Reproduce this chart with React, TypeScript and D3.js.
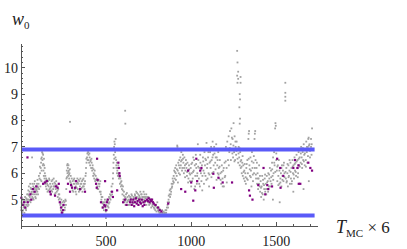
import React from 'react';
import * as d3 from 'd3';

// gray samples: [T_MC, w0]
const grayPoints: [number, number][] = [
  [2,4.7],[4,4.9],[6,4.5],[8,4.8],[10,5.0],[12,4.6],[14,4.8],[16,4.7],[18,4.9],[20,4.5],[22,4.8],[24,5.1],[26,4.7],[28,4.9],[30,4.6],[32,5.0],[34,4.8],[36,5.2],[38,4.9],[40,5.0],
  [42,5.2],[44,4.8],[46,5.5],[48,5.0],[50,5.3],[52,5.1],[54,5.6],[56,4.9],[58,5.2],[60,5.4],[62,5.0],[64,5.3],[65,6.6],[66,5.1],[68,5.4],[70,5.2],[72,5.5],[74,5.0],[76,5.3],[78,5.6],[80,5.2],[82,5.4],[84,5.1],[86,5.3],[88,5.5],[90,5.2],[92,5.4],[94,5.6],[96,5.3],[98,5.5],[100,5.2],
  [103,5.6],[106,5.4],[109,5.8],[112,6.0],[114,5.5],[116,6.2],[118,6.4],[120,5.7],[122,6.6],[124,6.8],[126,6.5],[128,6.3],[130,6.7],[132,6.1],[134,5.9],[136,6.3],[138,5.8],[140,6.0],[142,5.6],[144,5.7],[146,5.5],[148,5.8],[150,5.4],
  [153,5.6],[156,5.3],[159,5.7],[162,5.5],[165,5.8],[168,5.4],[171,5.6],[174,5.2],[177,5.5],[180,5.7],[183,5.3],[186,5.6],[189,5.4],[192,5.8],[195,5.5],[198,5.2],[201,5.6],[204,5.4],[207,5.7],[210,5.3],[213,5.5],[216,5.1],[219,5.4],[222,5.0],[225,5.2],[228,4.9],
  [231,4.8],[234,4.6],[237,5.0],[240,4.7],[243,4.9],[246,4.5],[249,4.8],[252,4.6],[255,4.9],[258,4.7],[261,5.0],[264,4.8],
  [267,5.8],[269,6.1],[271,6.3],[273,6.0],[275,6.2],[277,5.9],[279,6.3],[281,6.1],[283,5.8],[285,6.0],[288,7.95],[289,5.7],[292,5.9],[295,5.6],[298,5.8],
  [301,5.5],[304,5.7],[307,5.3],[310,5.6],[313,5.8],[316,5.4],[319,5.7],[322,5.5],[325,5.2],[328,5.6],[331,5.8],[334,5.4],[337,5.6],[340,5.3],[343,5.7],[346,5.5],[349,5.8],[352,5.4],[355,5.6],[358,5.7],[361,5.3],[364,5.5],[367,5.8],[370,5.6],[373,5.4],[376,5.7],[379,5.9],
  [382,6.2],[385,6.4],[388,6.6],[391,6.5],[394,6.8],[397,6.7],[400,6.4],[403,6.6],[406,6.3],[409,6.5],[412,6.2],[415,6.4],[418,6.1],[421,6.3],[424,5.9],[427,6.0],[430,5.8],[433,6.1],[436,5.7],[439,5.9],
  [442,5.6],[445,5.8],[448,5.5],[451,5.7],[454,5.4],[457,5.6],[460,5.5],[463,5.3],[466,5.7],[469,5.2],[472,5.0],
  [475,4.9],[478,5.1],[481,4.7],[484,4.9],[487,4.6],[490,4.8],[493,5.0],[496,4.7],[499,4.3],[502,4.8],[505,4.6],[508,5.0],[511,4.9],[514,4.7],[517,5.1],[520,4.9],[523,5.2],
  [526,5.0],[529,5.3],[532,5.5],[535,5.2],[538,5.6],
  [541,6.0],[543,6.4],[545,6.7],[547,7.0],[549,7.2],[551,7.1],[553,6.8],[555,6.6],[557,6.9],[559,6.5],[561,6.2],[563,6.4],
  [566,6.1],[569,5.9],[572,6.3],[575,5.8],[578,6.0],[581,5.6],[584,5.8],[587,5.5],[590,5.7],[593,5.4],
  [596,5.2],[599,5.5],[602,5.0],[605,5.3],[608,4.9],[611,5.1],[612,8.37],[613,7.88],[614,4.8],[617,5.2],[620,5.0],[623,4.9],[626,5.1],[629,4.8],
  [633,5.0],[637,4.8],[641,5.1],[645,4.9],[649,5.2],[653,4.8],[657,5.0],[661,5.1],[665,4.9],[669,5.2],[673,5.0],[677,5.3],[681,5.1],[685,4.9],[689,5.2],[693,5.0],[697,5.1],[701,5.3],[705,5.0],[709,5.2],[713,4.9],[717,5.1],[720,5.3],[721,5.0],[725,5.2],[729,4.9],[733,5.1],[737,4.8],[741,5.0],[745,4.9],[749,5.1],[753,4.8],[757,5.0],[761,4.9],[765,4.7],[769,5.0],[773,4.8],[777,4.9],[781,4.7],[785,4.8],[789,4.6],[793,4.8],[797,4.7],[801,4.9],[805,4.6],[809,4.7],[813,4.5],[817,4.6],
  [821,4.5],[825,4.4],[829,4.6],[833,4.5],[837,4.4],[841,4.5],[845,4.4],[849,4.6],[853,4.5],[857,4.7],
  [861,4.8],[864,4.7],[867,5.0],[870,4.9],[873,5.2],[876,5.1],[879,5.4],[882,5.3],[885,5.6],[888,5.5],[891,5.8],[894,5.7],
  [897,5.9],[900,6.1],[903,5.8],[906,6.2],[909,6.0],[912,6.3],[915,5.9],[918,7.05],[919,7.0],[921,6.1],[924,6.4],[927,6.0],[930,6.5],[933,6.2],
  [936,6.6],[939,6.3],[942,6.8],[945,6.5],[948,6.2],[951,6.7],[954,6.4],[957,6.0],[960,6.6],[963,6.3],[966,6.1],[969,6.5],[972,6.2],[975,5.9],[978,6.4],[981,6.1],[984,5.8],[987,6.3],[990,6.0],[993,5.7],
  [997,6.2],[1000,5.5],[1003,6.0],[1006,6.4],[1009,5.8],[1012,6.6],[1015,6.1],[1018,5.4],[1021,6.3],[1024,5.9],[1027,6.7],[1030,6.2],[1033,5.6],[1036,6.0],[1039,7.1],[1042,6.5],[1045,5.8],[1048,6.2],[1051,5.5],[1054,6.4],[1057,6.0],[1060,5.7],[1063,6.3],[1066,5.9],[1069,6.6],[1072,6.1],[1075,5.6],[1078,6.8],[1081,6.3],[1084,5.9],[1087,6.5],[1090,7.15],[1093,6.2],[1096,5.8],[1099,6.6],[1102,6.0],[1105,5.5],[1108,6.4],
  [1111,6.8],[1114,6.2],[1117,7.0],[1120,6.5],[1123,6.0],[1126,7.2],[1129,6.7],[1132,6.3],[1135,7.0],[1138,6.9],[1141,6.4],[1144,6.6],[1147,7.1],[1150,6.6],[1153,6.3],[1156,6.0],[1159,6.8],[1162,6.2],[1165,5.8],[1168,6.5],
  [1172,6.0],[1176,5.6],[1180,6.3],[1184,5.8],[1188,6.1],[1192,5.5],[1196,6.4],[1200,5.9],[1204,7.0],[1208,6.2],[1212,7.2],[1216,6.5],[1220,7.4],[1224,6.8],[1228,7.6],[1232,7.1],[1236,7.7],
  [1240,6.9],[1243,7.3],[1246,6.6],[1249,7.9],[1252,6.8],[1255,7.4],[1258,6.5],[1261,7.0],[1264,6.7],[1267,7.2],
  [1270,10.64],[1272,10.2],[1276,9.85],[1270,9.7],[1290,9.65],[1276,9.58],[1272,9.43],[1290,9.43],[1285,9.0],[1287,8.8],[1283,8.5],[1287,8.07],[1285,7.88],
  [1273,6.9],[1276,6.4],[1279,7.0],[1282,6.6],[1285,6.3],[1288,6.8],[1291,6.2],[1294,6.5],[1297,6.0],[1300,6.4],[1303,5.9],[1306,6.3],[1309,5.8],[1312,6.1],[1315,5.7],[1318,6.0],
  [1321,5.6],[1324,6.2],[1327,5.8],[1330,6.5],[1333,6.0],[1336,7.3],[1338,7.5],[1340,7.6],[1342,6.3],[1345,5.9],[1348,6.6],[1351,6.1],[1354,5.5],[1357,6.8],[1360,6.2],[1363,5.7],[1366,6.4],[1369,6.0],[1372,7.3],[1374,7.5],[1376,7.6],[1378,6.5],[1381,5.8],[1384,6.2],[1387,5.6],[1390,6.0],[1393,5.4],[1396,5.8],[1399,6.3],[1402,5.5],
  [1405,5.3],[1408,5.7],[1411,5.1],[1414,5.5],[1417,5.9],[1420,5.2],[1423,5.6],[1426,5.0],[1429,5.4],[1432,5.8],[1435,5.3],[1438,5.6],[1441,5.2],[1444,5.9],[1447,5.4],[1450,5.7],[1453,6.0],[1456,5.5],[1459,5.8],[1462,6.2],
  [1466,5.7],[1469,6.1],[1472,5.6],[1475,6.4],[1478,5.9],[1480,5.0],[1481,6.6],[1484,6.0],[1487,6.8],[1490,6.3],[1493,7.7],[1495,7.9],[1497,7.8],[1500,6.5],[1503,6.1],[1506,5.7],[1509,6.3],[1512,5.9],[1515,6.5],[1518,5.6],[1520,4.9],[1521,6.2],[1524,5.8],[1527,6.0],[1530,5.5],[1533,6.3],[1536,5.9],[1539,6.1],[1542,5.7],[1545,6.4],[1548,6.0],
  [1553,9.43],[1553,9.05],[1553,8.9],[1553,8.75],
  [1556,5.8],[1559,6.2],[1562,5.7],[1565,6.0],[1568,5.5],[1571,6.3],[1574,5.9],[1577,6.1],[1580,5.6],[1583,6.4],[1586,5.8],[1589,6.2],[1592,5.7],[1595,6.5],[1598,6.0],[1600,5.3],[1601,6.3],[1604,5.8],[1607,6.6],[1610,6.1],[1613,6.4],[1616,5.9],[1619,6.7],[1622,6.2],[1625,6.5],[1628,6.0],[1631,6.8],[1634,6.3],[1637,6.6],
  [1640,6.9],[1643,6.4],[1646,7.0],[1649,6.6],[1652,6.2],[1655,6.8],[1658,6.5],[1660,5.4],[1661,7.1],[1664,6.7],[1667,6.3],[1670,6.9],[1673,6.5],[1676,7.2],[1679,6.8],[1682,6.4],[1685,7.0],[1688,7.3],[1690,7.35],[1691,5.7],[1692,6.9],[1695,7.1],[1698,6.6],[1701,6.9],[1704,7.0],[1707,6.7],[1710,7.7],
];

// more gray samples read between the ones above
const grayExtra: [number, number][] = [
  [1,4.6],[5,4.85],[9,4.55],[13,5.0],[17,4.75],[21,4.95],[27,4.65],[31,5.05],[35,5.0],[39,4.75],[43,5.35],[47,5.15],[51,4.95],[57,5.45],[61,5.25],[67,5.6],[71,5.05],[77,5.45],[81,5.7],[87,5.05],[91,5.35],[97,5.75],
  [101,5.45],[105,5.9],[111,6.25],[115,5.75],[119,6.55],[121,6.1],[127,6.75],[131,6.35],[135,6.55],[139,6.2],[143,5.9],[147,5.65],[151,5.75],[157,5.55],
  [161,5.35],[167,5.75],[173,5.45],[179,5.35],[185,5.75],[191,5.5],[197,5.65],[203,5.25],[209,5.55],[215,5.35],[221,5.2],[227,5.05],
  [233,4.85],[239,4.55],[245,4.75],[251,4.95],[257,4.6],[263,4.95],[266,5.4],[270,5.85],[274,6.35],[278,6.05],[282,5.95],[287,6.15],[291,5.65],[297,5.5],
  [303,5.35],[309,5.75],[315,5.6],[321,5.3],[327,5.45],[333,5.65],[339,5.75],[345,5.35],[351,5.6],[357,5.45],[363,5.75],[369,5.5],[375,5.6],[381,6.0],
  [384,6.55],[390,6.75],[396,6.5],[402,6.75],[408,6.45],[414,6.55],[420,6.2],[426,6.15],[432,5.95],[438,5.75],
  [444,5.75],[450,5.4],[456,5.75],[462,5.6],[468,5.3],[474,5.1],[480,4.85],[486,4.75],[492,4.9],[498,4.55],[504,4.95],[510,4.75],[516,4.85],[522,5.05],[528,5.15],
  [540,5.8],[544,6.2],[548,6.55],[552,6.9],[556,7.3],[560,6.3],[564,6.0],[568,6.2],[574,5.95],[580,5.85],[586,5.65],[592,5.55],[598,5.35],
  [604,5.15],[610,4.95],[616,5.05],[622,5.25],[628,4.95],[634,5.15],[640,4.95],[646,5.05],[652,5.15],[658,4.85],[664,5.05],[670,5.15],[676,5.1],[682,5.25],[688,5.05],[694,5.15],[700,5.05],[706,5.2],[712,5.1],[718,5.0],[724,5.1],[730,5.05],[736,5.2],[742,5.1],[748,4.95],[754,5.05],[760,4.85],[766,4.95],[772,4.75],[778,4.85],[784,4.65],[790,4.75],[796,4.55],[802,4.7],[808,4.55],[814,4.65],
  [830,4.45],[838,4.55],[846,4.5],[854,4.6],[862,4.9],[868,5.15],[874,5.35],[880,5.2],[886,5.45],[892,5.6],[898,5.65],
  [904,6.05],[910,5.75],[916,6.15],[922,5.65],[928,6.3],[934,5.95],[940,6.45],[946,6.1],[952,6.55],[958,6.2],[964,5.85],[970,6.35],[976,6.05],[982,5.65],[988,6.15],[994,5.95],
  [1001,6.35],[1005,5.7],[1011,6.05],[1017,6.5],[1023,5.5],[1029,6.35],[1035,5.9],[1041,6.25],[1047,5.6],[1053,6.7],[1059,6.15],[1065,5.35],[1071,6.45],[1077,6.0],[1083,6.55],[1089,5.75],[1095,6.35],[1101,6.8],[1107,5.95],
  [1113,6.45],[1119,5.85],[1125,6.6],[1131,6.05],[1137,6.75],[1143,6.15],[1149,5.75],[1155,6.5],[1161,5.95],[1167,6.25],[1173,5.75],[1179,6.05],[1185,5.5],[1191,6.2],[1197,5.85],[1203,6.45],[1209,5.65],[1215,6.9],[1221,6.3],[1227,6.95],[1233,6.5],[1239,7.35],
  [1242,6.75],[1248,7.05],[1254,6.45],[1260,7.2],[1266,6.85],[1272,6.55],[1278,6.75],[1284,6.95],[1290,6.45],[1296,6.25],[1302,6.65],[1308,6.05],[1314,6.35],[1320,5.85],
  [1326,6.35],[1332,5.75],[1338,6.55],[1344,6.15],[1350,5.85],[1356,6.45],[1362,5.95],[1368,6.65],[1374,6.2],[1380,5.95],[1386,6.4],[1392,5.8],[1398,5.6],[1404,5.9],
  [1410,5.45],[1416,5.25],[1422,5.75],[1428,5.55],[1434,5.95],[1440,5.4],[1446,5.65],[1452,5.3],[1458,5.95],[1464,5.5],
  [1470,5.85],[1476,6.15],[1482,5.75],[1488,6.4],[1494,6.05],[1500,6.75],[1506,6.25],[1512,5.55],[1518,6.1],[1524,5.65],[1530,6.2],[1536,5.75],[1542,6.3],[1548,5.85],
  [1554,6.05],[1560,5.65],[1566,6.35],[1572,5.85],[1578,6.5],[1584,6.05],[1590,5.6],[1596,6.25],[1602,5.95],[1608,6.35],[1614,6.05],[1620,6.45],[1626,5.85],[1632,6.55],[1638,6.25],[1644,6.75],[1650,6.35],[1656,6.95],[1662,6.45],[1668,6.75],[1674,6.25],[1680,7.0],[1686,6.65],[1692,7.05],[1698,6.85],[1704,7.3],[1708,7.1],
];

// purple samples: [T_MC, w0]
const purplePoints: [number, number][] = [
  [2,5.07],[10,4.8],[18,4.9],[25,4.7],[38,6.6],[40,4.9],[55,5.2],[60,5.0],[70,5.4],[80,5.3],[90,5.5],
  [130,5.6],[140,5.65],[152,5.7],[170,5.3],[175,5.2],[200,5.15],[205,5.5],[215,5.45],[222,5.6],[228,4.9],
  [235,4.7],[240,4.5],[247,4.6],[250,4.8],[276,5.6],[288,5.3],[294,5.55],[300,5.45],[318,5.45],[324,5.7],[347,5.4],[376,5.3],
  [441,5.6],[445,5.45],[447,6.55],[450,5.75],[470,4.9],[480,4.7],[490,4.8],[494,5.7],[495,4.75],[500,4.6],[505,4.9],[510,5.0],
  [535,5.3],[540,5.1],[565,5.35],[572,6.4],[575,6.2],[578,6.0],[580,5.9],[600,4.9],[610,5.0],[620,4.8],
  [640,4.9],[645,5.0],[650,4.8],[655,4.9],[660,5.0],[665,4.75],[670,4.9],[675,5.05],[680,4.85],[685,4.95],[690,4.8],[695,5.0],[700,4.9],[705,4.85],[710,5.0],[715,4.75],[720,4.9],[725,4.8],[730,4.95],[740,5.0],[745,4.95],[750,5.05],[755,4.9],[760,5.0],[765,4.95],[770,5.0],[775,4.9],[780,4.85],[790,4.8],[805,4.7],[815,4.6],[825,4.55],
  [865,4.85],[941,5.4],[965,5.3],[982,6.1],[1000,5.65],[1012,4.96],[1024,5.35],[1030,6.55],[1035,5.7],[1053,6.1],[1060,6.2],
  [1130,5.98],[1133,5.45],[1160,5.83],[1185,5.65],[1240,5.65],[1340,5.35],[1345,5.15],[1360,5.0],[1394,5.55],
  [1425,6.2],[1435,5.2],[1447,5.55],[1453,5.4],[1475,5.5],[1505,6.55],[1523,6.2],[1525,5.45],[1541,5.9],
  [1600,6.2],[1610,6.5],[1625,6.2],[1630,6.3],[1632,5.6],[1641,5.6],[1688,6.4],[1700,6.2],[1710,6.1],
];

const bandLevels = [4.4, 6.9];
const xMajor = [500, 1000, 1500];
const yMajor = [5, 6, 7, 8, 9, 10];

const W = 407;
const H = 249;
const serif = "'Liberation Serif', 'Times New Roman', Times, Tinos, 'Noto Serif', 'DejaVu Serif', FreeSerif, serif";

export default function App() {
  const x = d3.scaleLinear().domain([0, 1745]).range([21, 318]);
  const y = d3.scaleLinear().domain([4, 10.9]).range([226, 44]);

  const xMinor = d3.range(100, 1800, 100).filter(v => !xMajor.includes(v));
  const yMinor = d3.range(4.2, 10.85, 0.2).filter(v => Math.abs(v - Math.round(v)) > 0.01);

  const axisColor = '#555';
  const allGray = grayPoints.concat(grayExtra);

  return (
    <svg width={W} height={H} style={{ position: 'absolute', left: 0, top: 0, fontFamily: serif }}>
      <rect width={W} height={H} fill="#fff" />

      {/* points */}
      <g fill="#a2a2a2">
        {allGray.map(([t, w], i) => (
          <rect key={i} x={x(t) - 0.9} y={y(w) - 0.9} width={1.8} height={1.8} />
        ))}
      </g>
      <g fill="#800080">
        {purplePoints.map(([t, w], i) => (
          <rect key={i} x={x(t) - 1.1} y={y(w) - 1.1} width={2.2} height={2.2} />
        ))}
      </g>

      {/* reference levels */}
      {bandLevels.map(v => (
        <line key={v} x1={x(0)} x2={x(1725)} y1={y(v)} y2={y(v)} stroke="#5a5af8" strokeWidth={4} />
      ))}

      {/* axes */}
      <g stroke={axisColor} strokeWidth={1} shapeRendering="crispEdges">
        <line x1={x(0)} x2={x(0)} y1={y(4) + 3} y2={y(10.9)} />
        <line x1={x(0)} x2={x(1745)} y1={y(4)} y2={y(4)} />
        {xMajor.map(v => <line key={v} x1={x(v)} x2={x(v)} y1={y(4)} y2={y(4) - 4} />)}
        {xMinor.map(v => <line key={v} x1={x(v)} x2={x(v)} y1={y(4)} y2={y(4) - 2} />)}
        {yMajor.map(v => <line key={v} x1={x(0)} x2={x(0) + 4} y1={y(v)} y2={y(v)} />)}
        {yMinor.map(v => <line key={v} x1={x(0)} x2={x(0) + 2} y1={y(v)} y2={y(v)} />)}
      </g>

      <g fontSize={14} fill="#222">
        {xMajor.map(v => (
          <text key={v} x={x(v)} y={246} textAnchor="middle">{v}</text>
        ))}
        {yMajor.map(v => (
          <text key={v} x={18} y={y(v) + 5} textAnchor="end">{v}</text>
        ))}
      </g>

      {/* axis titles */}
      <text x={12} y={25} fill="#222">
        <tspan fontSize={18} fontStyle="italic">w</tspan>
        <tspan fontSize={11} dy={4}>0</tspan>
      </text>
      <text x={336} y={233} fill="#222">
        <tspan fontSize={18} fontStyle="italic">T</tspan>
        <tspan fontSize={11} dy={4}>MC</tspan>
        <tspan fontSize={17} dy={-4}> × 6</tspan>
      </text>
    </svg>
  );
}
